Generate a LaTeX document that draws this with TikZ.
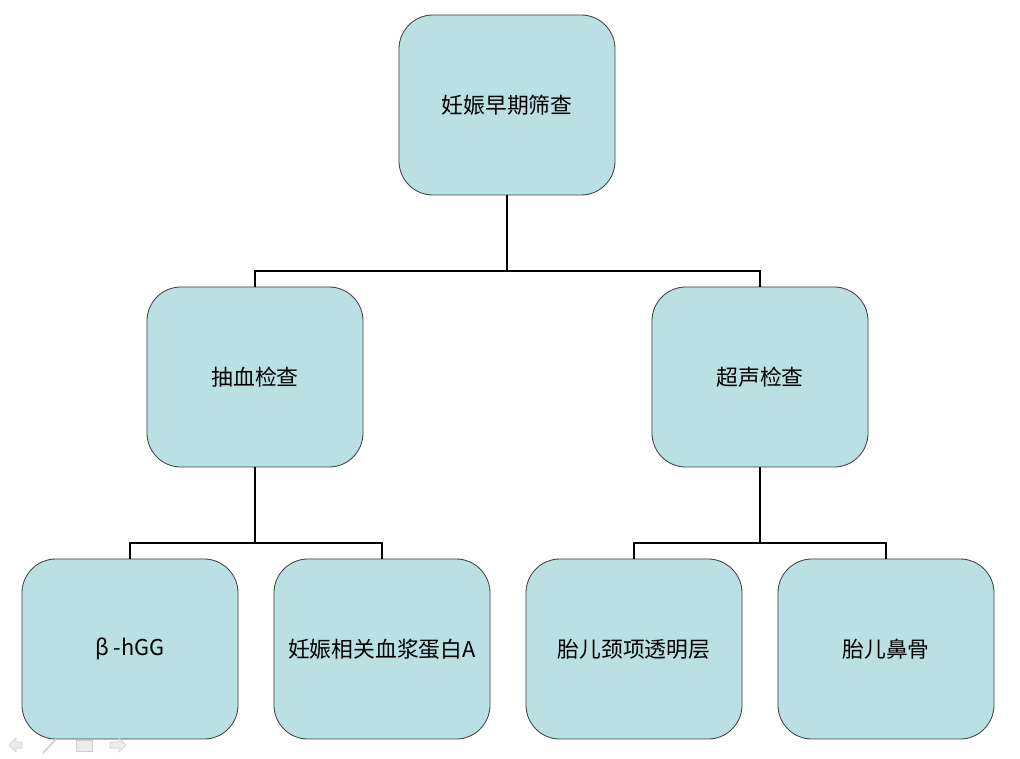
\documentclass[tikz,border=0pt]{standalone}
\usepackage{fontspec}
\newfontfamily\cjk{Noto Sans CJK SC}
\usetikzlibrary{calc, positioning}
\definecolor{boxfill}{HTML}{BBE0E3}
\definecolor{boxline}{HTML}{404040}
\definecolor{navgray}{HTML}{D0D0D0}

\begin{document}
\begin{tikzpicture}[x=0.025cm, y=-0.025cm,
  box/.style={draw=boxline, line width=0.6pt, fill=boxfill, rounded corners=0.85cm,
    minimum width=5.4cm, minimum height=4.5cm, inner sep=0pt,
    font=\cjk\fontsize{15.5}{18}\selectfont},
  conn/.style={line width=2.1pt, black},
  nav/.style={draw=navgray, fill=navgray!40, line width=0.5pt}]
\useasboundingbox (0,0) rectangle (1020,758);

% boxes
\node[box] (screen) at (507,105) {妊娠早期筛查};
\node[box] (blood)  at (255,377) {抽血检查};
\node[box] (ultra)  at (760,377) {超声检查};
\node[box] (hcg)    at (130,649) {β -hGG};
\node[box] (pappa)  at (382,649) {妊娠相关血浆蛋白A};
\node[box] (nt)     at (634,649) {胎儿颈项透明层};
\node[box] (nasal)  at (886,649) {胎儿鼻骨};

% bus coordinates
\coordinate (bus0) at (507,271);
\coordinate (busL) at (255,543);
\coordinate (busR) at (760,543);

% connectors
\draw[conn] (screen.south) -- (bus0);
\draw[conn] (blood.north) |- (bus0) -| (ultra.north);
\draw[conn] (blood.south) -- (busL);
\draw[conn] (hcg.north) |- (busL) -| (pappa.north);
\draw[conn] (ultra.south) -- (busR);
\draw[conn] (nt.north) |- (busR) -| (nasal.north);

% slide navigation icons
\draw[nav] (9,745) -- (16,738) -- (16,742) -- (22,742) -- (22,748) -- (16,748) -- (16,752) -- cycle;
\draw[nav, line width=1.2pt] (43,753) -- (56,739);
\draw[nav] (76,740) rectangle (92,751);
\draw[nav] (126,745) -- (119,738) -- (119,742) -- (110,742) -- (110,748) -- (119,748) -- (119,752) -- cycle;
\end{tikzpicture}
\end{document}
